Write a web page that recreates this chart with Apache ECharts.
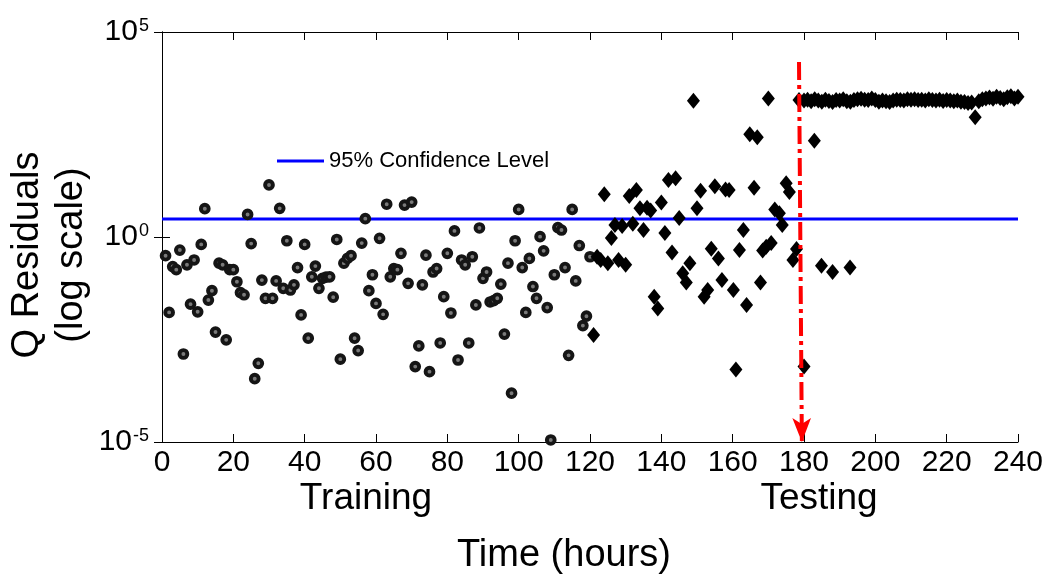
<!DOCTYPE html>
<html>
<head>
<meta charset="utf-8">
<script src="https://cdn.jsdelivr.net/npm/echarts@6/dist/echarts.min.js"></script>
<style>
html,body{margin:0;padding:0;background:#fff;}
#chart{width:1054px;height:577px;}
</style>
</head>
<body>
<div id="chart"></div>
<script>
// ---- data ----
// training Q residuals, one per hour, hours 1..120
const trainingQ = [
  3.5e-1,1.45e-2,1.9e-1,1.6e-1,4.8e-1,1.4e-3,2.1e-1,2.3e-2,2.75e-1,1.5e-2,
  6.6e-1,4.9,2.9e-2,4.9e-2,4.8e-3,2.3e-1,2.1e-1,3.1e-3,1.6e-1,1.6e-1,
  8.1e-2,4.4e-2,3.9e-2,3.55,6.9e-1,3.5e-4,8.3e-4,8.9e-2,3.2e-2,18.6,
  3.2e-2,8.5e-2,5.0,5.6e-2,8.1e-1,5.1e-2,6.8e-2,1.8e-1,1.26e-2,6.6e-1,
  3.4e-3,1.07e-1,1.95e-1,5.6e-2,9.8e-2,1.05e-1,1.07e-1,3.4e-2,8.7e-1,1.05e-3,
  2.3e-1,3.0e-1,3.5e-1,3.4e-3,1.7e-3,7.1e-1,2.8,4.9e-2,1.2e-1,2.4e-2,
  9.3e-1,1.3e-2,6.3,1.07e-1,1.7e-1,1.6e-1,4.0e-1,6.0,7.4e-2,7.1,
  6.9e-4,2.2e-3,6.8e-2,3.6e-1,5.2e-4,1.4e-1,1.7e-1,2.6e-3,3.5e-2,4.0e-1,
  1.4e-2,1.41,1.0e-3,2.75e-1,2.1e-1,2.6e-3,3.3e-1,2.2e-2,1.66,9.8e-2,
  1.4e-1,2.6e-2,2.8e-2,3.2e-2,7.1e-2,4.3e-3,2.3e-1,1.55e-4,8.1e-1,4.7,
  1.8e-1,1.45e-2,3.0e-1,6.2e-2,3.2e-2,1.02,4.6e-1,1.9e-2,1.12e-5,1.2e-1,
  1.7,1.48,1.8e-1,1.3e-3,4.7,8.5e-2,6.2e-1,6.9e-3,1.17e-2,3.3e-1
];
const trainingStartHour = 1;

// testing period (diamonds)
const testHours = [
  121,122,123,124,125,126,127,128,129,130,
  131,132,133,134,135,136,137,138,139,140,
  141,142,143,144,145,146,147,148,149,150,
  151,152,153,154,155,156,157,158,159,
  160.2,160.9,161.9,163.0,163.9,164.8,166.0,166.9,167.8,168.4,
  169.4,170.0,170.8,171.8,173.1,173.9,175.0,175.9,176.9,177.9,
  178.6,180.0,182.9,184.9,188.0,192.9,
  180,181,182,183,184,185,186,187,188,189,
  190,191,192,193,194,195,196,197,198,199,
  200,201,202,203,204,205,206,207,208,209,
  210,211,212,213,214,215,216,217,218,219,
  220,221,222,223,224,225,226,227,228,229,
  230,231,232,233,234,235,236,237,238,239,240
];
const testQ = [
  4.1e-3,3.3e-1,2.75e-1,11,2.3e-1,9.5e-1,1.95,2.75e-1,1.86,2.1e-1,
  10,2.1,14,5.0,1.48,5.2,4.4,3.5e-2,1.8e-2,6.9,
  1.26,24.5,4.2e-1,27,2.9,1.3e-1,7.8e-2,2.3e-1,2100,5.0,
  13.5,3.5e-2,5.1e-2,5.2e-1,17.4,3.0e-1,8.9e-2,14.5,14,
  5.1e-2,5.9e-4,4.8e-1,1.48,2.2e-2,320,16,270,7.8e-2,4.7e-1,
  5.75e-1,2400,7.1e-1,4.7,3.8,1.95,20.4,12.6,2.75e-1,5.1e-1,
  2190,6.9e-4,224,2.0e-1,1.4e-1,1.8e-1,
  2138,2239,2042,2291,2138,1995,2239,2089,1950,2188,
  2138,2291,2042,1995,2188,2291,2344,2239,2188,2399,
  2188,1995,2138,2042,1950,2138,2239,2188,2138,2291,
  2239,2291,2188,2239,2138,2291,2188,2138,2239,2089,
  2188,2138,2042,2138,1995,1950,1862,1905,832,2042,
  2291,2399,2512,2344,2630,2455,2291,2570,2692,2399,2630
];

const confidenceLevel = 2.75;
const confidenceName = '95% Confidence Level';
const xTickRange = [0, 240, 20];         // min, max, step
const yTickExponents = [-5, 0, 5];
const splitArrowTop = [178.6, 1.86e4];    // dash-dot arrow separating training / testing
const splitArrowBottom = [179.4, 1e-5];
const phaseLabels = ['Training', 'Testing'];
const xTitle = 'Time (hours)';
const yTitle = ['Q Residuals', '(log scale)'];

// ---- build ----
const FONT = "'Liberation Sans', Arial, Helvetica, sans-serif";
const trainingData = trainingQ.map((v, i) => [trainingStartHour + i, v]);
const testData = testHours.map((h, i) => [h, testQ[i]]);

const chart = echarts.init(document.getElementById('chart'), null, {renderer: 'canvas'});

const axisLine = {show: true, lineStyle: {color: '#000', width: 1}};
const tickIn = {show: true, inside: true, length: 8, lineStyle: {color: '#000', width: 1}};

const option = {
  backgroundColor: '#fff',
  animation: false,
  textStyle: {fontFamily: FONT},
  grid: {left: 162, right: 36, top: 32, bottom: 135, containLabel: false},
  legend: {
    data: [{name: confidenceName, icon: 'rect'}],
    left: 272, top: 145,
    itemWidth: 47, itemHeight: 3, itemGap: 5,
    textStyle: {fontSize: 22, color: '#000', fontFamily: FONT}
  },
  xAxis: [{
    type: 'value', min: xTickRange[0], max: xTickRange[1], interval: xTickRange[2],
    position: 'bottom',
    axisLine: axisLine, axisTick: tickIn, splitLine: {show: false},
    axisLabel: {fontSize: 30, color: '#000', margin: 6, fontFamily: FONT}
  }, {
    type: 'value', min: xTickRange[0], max: xTickRange[1], interval: xTickRange[2],
    position: 'top',
    axisLine: axisLine, axisTick: tickIn, splitLine: {show: false},
    axisLabel: {show: false}
  }],
  yAxis: [{
    type: 'log', logBase: 10, min: Math.pow(10, yTickExponents[0]), max: Math.pow(10, yTickExponents[2]),
    interval: yTickExponents[1] - yTickExponents[0],
    axisLine: axisLine, axisTick: tickIn, splitLine: {show: false}, minorTick: {show: false},
    axisLabel: {
      margin: 13, color: '#000',
      formatter: function (v) {
        const e = Math.round(Math.log10(v));
        return '{b|10}{s|' + e + '}';
      },
      rich: {
        b: {fontSize: 30, color: '#000', fontFamily: FONT},
        s: {fontSize: 18, color: '#000', fontFamily: FONT, verticalAlign: 'top', padding: [0, 0, 0, 1]}
      }
    }
  }, {
    type: 'log', logBase: 10, min: Math.pow(10, yTickExponents[0]), max: Math.pow(10, yTickExponents[2]),
    interval: yTickExponents[1] - yTickExponents[0],
    position: 'right',
    axisLine: axisLine, axisTick: tickIn, splitLine: {show: false},
    axisLabel: {show: false}
  }],
  series: [{
    name: confidenceName,
    type: 'line',
    data: [[xTickRange[0], confidenceLevel], [xTickRange[1], confidenceLevel]],
    symbol: 'none',
    lineStyle: {color: '#0000ff', width: 3},
    itemStyle: {color: '#0000ff'},
    z: 2,
    silent: true
  }, {
    name: 'Training',
    type: 'scatter',
    data: trainingData,
    symbol: 'circle',
    symbolSize: 7.8,
    itemStyle: {color: '#7a7a7a', borderColor: '#151515', borderWidth: 3.9, opacity: 1},
    z: 3,
    silent: true
  }, {
    name: 'Testing',
    type: 'scatter',
    data: testData,
    symbol: 'diamond',
    symbolSize: [13, 16],
    itemStyle: {color: '#000', opacity: 1},
    z: 3,
    silent: true
  }, {
    name: 'split',
    type: 'line',
    data: [],
    silent: true,
    z: 5,
    markLine: {
      silent: true,
      symbol: ['none', 'arrow'],
      symbolSize: [14, 24],
      label: {show: false},
      lineStyle: {color: '#ff0000', width: 4, type: [18, 5, 4, 5], opacity: 1},
      data: [[{coord: splitArrowTop}, {coord: splitArrowBottom}]]
    }
  }],
  graphic: [
    {type: 'text', x: 366, y: 499, style: {text: phaseLabels[0], fontSize: 37, fontFamily: FONT, fill: '#000', align: 'center', verticalAlign: 'middle'}},
    {type: 'text', x: 819, y: 499, style: {text: phaseLabels[1], fontSize: 37, fontFamily: FONT, fill: '#000', align: 'center', verticalAlign: 'middle'}},
    {type: 'text', x: 564, y: 556, style: {text: xTitle, fontSize: 38, fontFamily: FONT, fill: '#000', align: 'center', verticalAlign: 'middle'}},
    {type: 'text', x: 28, y: 255, rotation: Math.PI / 2, style: {text: yTitle[0], fontSize: 38, fontFamily: FONT, fill: '#000', align: 'center', verticalAlign: 'middle'}},
    {type: 'text', x: 72, y: 255, rotation: Math.PI / 2, style: {text: yTitle[1], fontSize: 38, fontFamily: FONT, fill: '#000', align: 'center', verticalAlign: 'middle'}}
  ]
};
chart.setOption(option);
</script>
</body>
</html>
